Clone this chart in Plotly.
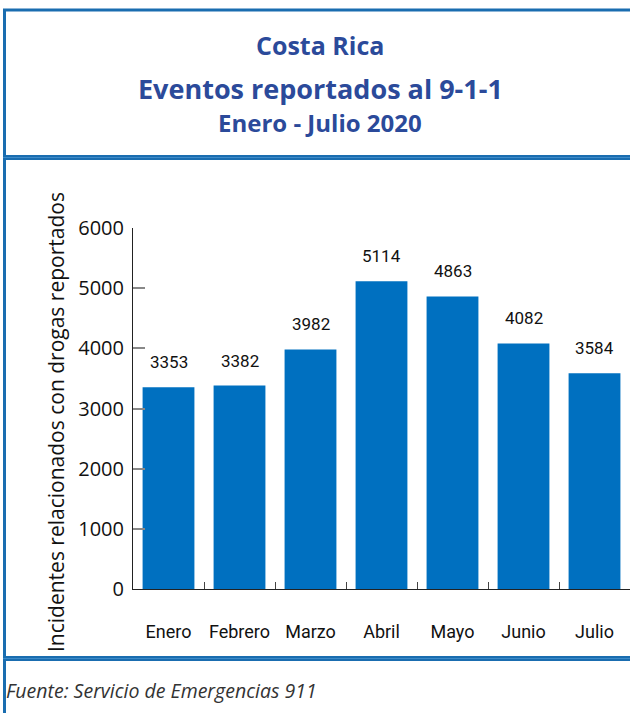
import plotly.graph_objects as go

months = ["Enero", "Febrero", "Marzo", "Abril", "Mayo", "Junio", "Julio"]
values = [3353, 3382, 3982, 5114, 4863, 4082, 3584]
y_ticks = [0, 1000, 2000, 3000, 4000, 5000, 6000]

title_lines = ["Costa Rica", "Eventos reportados al 9-1-1", "Enero - Julio 2020"]
y_title = "Incidentes relacionados con drogas reportados"
source = "Fuente: Servicio de Emergencias 911"

W, H = 630, 713
BAR = "#0070C0"
LINE = "#1a6db0"
TITLE_C = "#2b4a9a"
NARROW = "Roboto, Liberation Sans Narrow, sans-serif"
SANS = "Open Sans, Noto Sans, sans-serif"


def py(p):
    return 1 - p / H


def px(p):
    return p / W


fig = go.Figure()
fig.add_trace(go.Bar(x=months, y=values, marker=dict(color=BAR, line=dict(width=0)),
                     hoverinfo="skip"))

annotations = []
for m, v in zip(months, values):
    annotations.append(dict(x=m, y=v, xref="x", yref="y", text=str(v), showarrow=False,
                            yshift=25, font=dict(family=NARROW, size=17, color="#111")))

title_y = [45, 88, 123]
title_size = [25, 27, 24]
for t, yy, s in zip(title_lines, title_y, title_size):
    annotations.append(dict(x=px(320), y=py(yy), xref="paper", yref="paper", text="<b>" + t + "</b>",
                            showarrow=False, xanchor="center", yanchor="middle",
                            font=dict(family=SANS, size=s, color=TITLE_C)))

# y-axis title
annotations.append(dict(x=px(56), y=py(422), xref="paper", yref="paper", text=y_title,
                        showarrow=False, textangle=-90, xanchor="center", yanchor="middle",
                        font=dict(family=SANS, size=21, color="#111")))

annotations.append(dict(x=px(4), y=py(690), xref="paper", yref="paper", text="<i>" + source + "</i>",
                        showarrow=False, xanchor="left", yanchor="middle",
                        font=dict(family=SANS, size=19.5, color="#333")))

shapes = []
# top border
shapes.append(dict(type="line", xref="paper", yref="paper", x0=px(3), x1=1, y0=py(10), y1=py(10),
                   line=dict(color=LINE, width=3)))
# left border
shapes.append(dict(type="line", xref="paper", yref="paper", x0=px(4.5), x1=px(4.5), y0=py(9), y1=0,
                   line=dict(color=LINE, width=3)))
# separators
for yy in [157.5, 658.5]:
    shapes.append(dict(type="line", xref="paper", yref="paper", x0=px(3), x1=1, y0=py(yy), y1=py(yy),
                       line=dict(color=LINE, width=5)))
    shapes.append(dict(type="line", xref="paper", yref="paper", x0=px(3), x1=1, y0=py(yy), y1=py(yy),
                       line=dict(color="#3d8ac8", width=1)))

fig.update_layout(
    width=W, height=H,
    margin=dict(l=0, r=0, t=0, b=0),
    paper_bgcolor="white", plot_bgcolor="white",
    showlegend=False,
    bargap=0.27,
    annotations=annotations,
    shapes=shapes,
    xaxis=dict(domain=[px(133), 1.0], type="category", range=[-0.5, 6.5],
               showline=True, linecolor="#222", linewidth=1,
               ticks="inside", tickson="boundaries", ticklen=7, tickcolor="#444", tickwidth=1,
               tickfont=dict(family=NARROW, size=18, color="#111"),
               ticklabelstandoff=26, showgrid=False, zeroline=False, automargin=False),
    yaxis=dict(domain=[py(589), py(228)], range=[0, 6000], tickvals=y_ticks,
               showline=True, linecolor="#222", linewidth=1,
               ticks="inside", ticklen=12, tickcolor="#888", tickwidth=1.5,
               tickfont=dict(family=SANS, size=20, color="#111"),
               ticklabelstandoff=4, showgrid=False, zeroline=False, automargin=False),
)

fig.write_html("out.html", config={"displayModeBar": False},
               post_script="document.body.style.margin='0';document.body.style.overflow='hidden';")
